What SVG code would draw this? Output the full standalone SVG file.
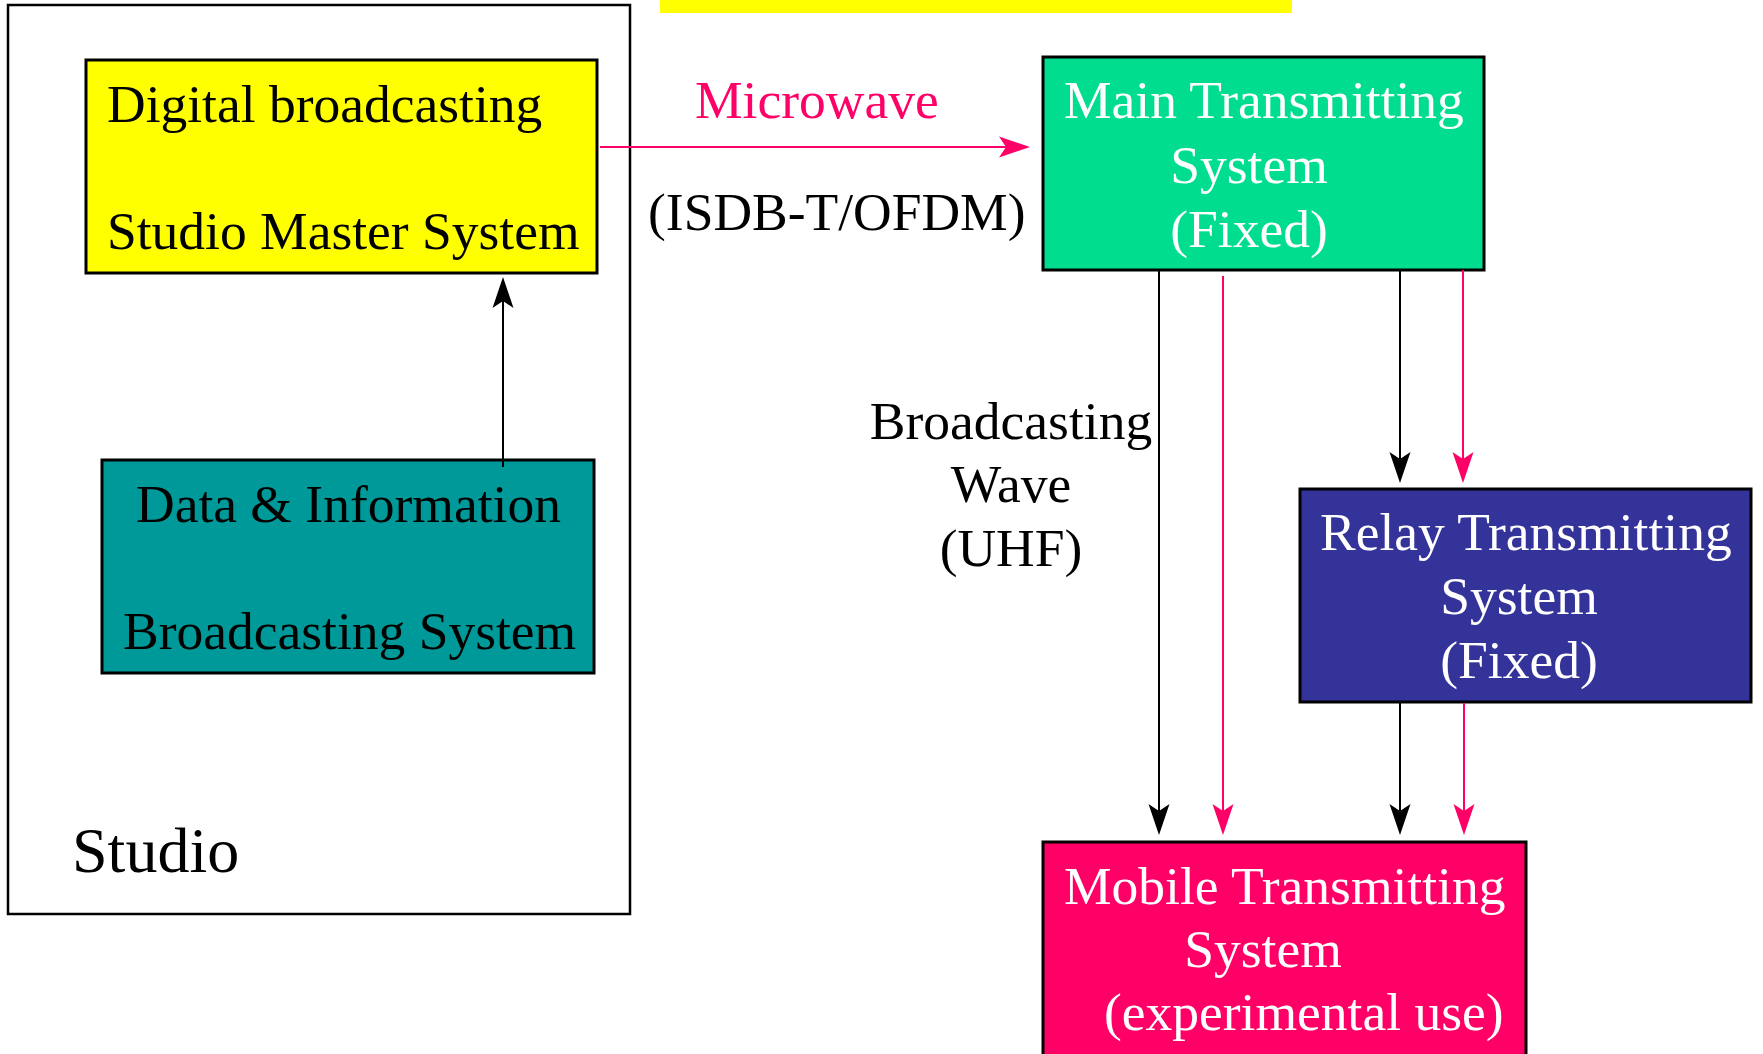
<svg xmlns="http://www.w3.org/2000/svg" width="1763" height="1054" viewBox="0 0 1763 1054">
  <style>
    .box { stroke: #000; stroke-width: 3; }
    .frame { fill: #fff; stroke: #000; stroke-width: 2.5; }
    .t { font-family: "Liberation Serif", "Times New Roman", serif; font-size: 53.5px; }
    .dark { fill: #000; }
    .light { fill: #fff; }
    .mid { text-anchor: middle; }
    .blk { stroke: #000; stroke-width: 2; fill: none; }
    .pnk { stroke: #ff0066; stroke-width: 2; fill: none; }
  </style>
  <defs>
    <marker id="ahBlack" markerUnits="userSpaceOnUse" markerWidth="40" markerHeight="30" viewBox="0 -15 40 30" refX="21" refY="0" orient="auto" overflow="visible">
      <path d="M31,0 L0,-10.5 L7,0 L0,10.5 Z" fill="#000"/>
    </marker>
    <marker id="ahPink" markerUnits="userSpaceOnUse" markerWidth="40" markerHeight="30" viewBox="0 -15 40 30" refX="21" refY="0" orient="auto" overflow="visible">
      <path d="M31,0 L0,-10.5 L7,0 L0,10.5 Z" fill="#ff0066"/>
    </marker>
  </defs>

  <rect width="1763" height="1054" fill="#fff"/>

  <!-- title banner, clipped at the top edge -->
  <rect x="660" y="0" width="632" height="13" fill="#ffff00"/>

  <!-- studio enclosure -->
  <g id="studio">
    <rect class="frame" x="8" y="5" width="622" height="909"/>
    <text class="t dark" x="72" y="872" style="font-size:64px">Studio</text>
  </g>

  <g id="studio-master">
    <rect class="box" x="86" y="60" width="511" height="213" fill="#ffff00"/>
    <text class="t dark" x="107" y="122">Digital broadcasting</text>
    <text class="t dark" x="107" y="249">Studio Master System</text>
  </g>

  <g id="data-info">
    <rect class="box" x="102" y="460" width="492" height="213" fill="#009999"/>
    <text class="t dark" x="136" y="522">Data &amp; Information</text>
    <text class="t dark" x="123" y="649">Broadcasting System</text>
  </g>

  <g id="main-tx">
    <rect class="box" x="1043" y="57" width="441" height="213" fill="#00dd8f"/>
    <text class="t light" x="1064" y="118">Main Transmitting</text>
    <text class="t light mid" x="1249" y="183">System</text>
    <text class="t light mid" x="1249" y="247">(Fixed)</text>
  </g>

  <g id="relay-tx">
    <rect class="box" x="1300" y="489" width="451" height="213" fill="#333399"/>
    <text class="t light" x="1320" y="550">Relay Transmitting</text>
    <text class="t light mid" x="1519" y="614">System</text>
    <text class="t light mid" x="1519" y="678">(Fixed)</text>
  </g>

  <g id="mobile-tx">
    <rect class="box" x="1043" y="842" width="483" height="230" fill="#ff0066"/>
    <text class="t light" x="1064" y="904">Mobile Transmitting</text>
    <text class="t light mid" x="1263" y="967">System</text>
    <text class="t light" x="1104" y="1030">(experimental use)</text>
  </g>

  <!-- links between systems -->
  <g id="connectors">
    <path class="blk" d="M503,467 V287" marker-end="url(#ahBlack)"/>
    <path class="pnk" d="M600,147 H1020" marker-end="url(#ahPink)"/>
    <path class="blk" d="M1159,270 V825" marker-end="url(#ahBlack)"/>
    <path class="pnk" d="M1223,276 V825" marker-end="url(#ahPink)"/>
    <path class="blk" d="M1400,270 V473" marker-end="url(#ahBlack)"/>
    <path class="pnk" d="M1463,270 V473" marker-end="url(#ahPink)"/>
    <path class="blk" d="M1400,703 V825" marker-end="url(#ahBlack)"/>
    <path class="pnk" d="M1464,703 V825" marker-end="url(#ahPink)"/>
  </g>

  <!-- link labels -->
  <g id="labels">
    <text class="t" x="695" y="118" fill="#ff0066">Microwave</text>
    <text class="t dark" x="648" y="230">(ISDB-T/OFDM)</text>
    <text class="t dark mid" x="1011" y="439">Broadcasting</text>
    <text class="t dark mid" x="1011" y="502">Wave</text>
    <text class="t dark mid" x="1011" y="566">(UHF)</text>
  </g>
</svg>
